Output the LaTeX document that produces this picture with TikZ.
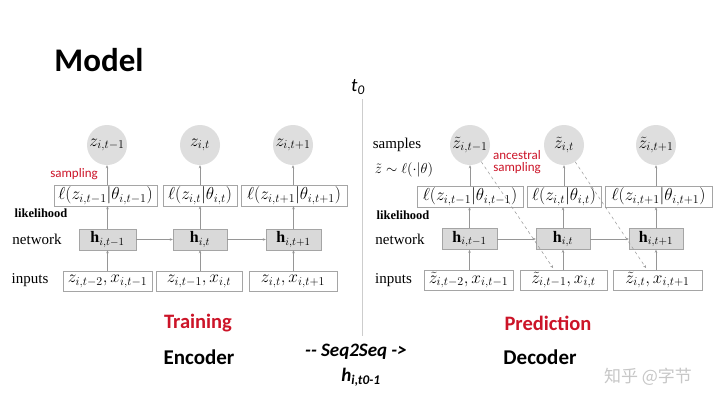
\documentclass[tikz,border=0pt]{standalone}
\usepackage{fontspec}
\setmainfont{Liberation Serif}
\newfontfamily\carlito{Carlito}
\newfontfamily\cjk{Noto Sans CJK SC}
\usetikzlibrary{arrows.meta}
\definecolor{boxgray}{RGB}{165,165,165}
\definecolor{hfill}{RGB}{217,217,217}
\definecolor{zfill}{RGB}{222,222,222}
\definecolor{slidered}{RGB}{204,20,40}
\definecolor{arrgray}{RGB}{150,150,150}
\definecolor{linegray}{RGB}{205,205,205}
\newcommand{\boxfont}{\fontsize{17}{20}\selectfont}
\tikzset{
  zcirc/.style={circle,fill=zfill,minimum size=40pt,inner sep=0pt,font=\boxfont},
  likbox/.style={draw=boxgray,fill=white,minimum height=21pt,inner sep=1pt,font=\boxfont},
  hbox/.style={draw=boxgray,fill=hfill,minimum height=21pt,inner sep=1pt,font=\fontsize{16}{18}\selectfont},
  inbox/.style={draw=boxgray,fill=white,minimum height=20pt,inner sep=1pt,font=\boxfont},
  rowlabel/.style={font=\fontsize{15}{18}\selectfont},
  liklabel/.style={font=\fontsize{12.5}{14}\selectfont\bfseries},
  redlabel/.style={text=slidered,font=\fontsize{13}{14}\selectfont\carlito,align=center},
  arr/.style={-{Stealth[length=3pt,width=2.5pt]},draw=arrgray,line width=0.5pt},
  dasharr/.style={arr,dashed},
}
\begin{document}
\begin{tikzpicture}[x=1pt,y=-1pt]
  \useasboundingbox (0,0) rectangle (720,405);
  \fill[white] (0,0) rectangle (720,405);
  \node[font=\fontsize{33}{36}\selectfont\carlito\bfseries] (title) at (99,60) {Model};
  % t0 divider
  \node[font=\fontsize{19}{20}\selectfont\carlito\itshape] (t0) at (358,87) {t\textsubscript{0}};
  \coordinate (divtop) at (362,99);
  \coordinate (divbot) at (362,336);
  \draw[linegray,line width=0.7pt] (divtop) -- (divbot);

  % encoder side
  \node[zcirc] (zl1) at (107,145) {$z_{i,t-1}$};
  \node[zcirc] (zl2) at (200,145) {$z_{i,t}$};
  \node[zcirc] (zl3) at (293,145) {$z_{i,t+1}$};
  \node[redlabel] (samp) at (74,174) {sampling};
  \node[likbox,minimum width=103pt] (ll1) at (105.5,195.5) {$\ell(z_{i,t-1}|\theta_{i,t-1})$};
  \node[likbox,minimum width=74pt] (ll2) at (200,195.5) {$\ell(z_{i,t}|\theta_{i,t})$};
  \node[likbox,minimum width=106pt] (ll3) at (294,195.5) {$\ell(z_{i,t+1}|\theta_{i,t+1})$};
  \node[liklabel] (likl) at (41,213) {likelihood};
  \node[rowlabel] (netl) at (37,239) {network};
  \node[hbox,minimum width=57pt] (hl1) at (107.5,239.5) {$\mathbf{h}_{i,t-1}$};
  \node[hbox,minimum width=54pt] (hl2) at (200,239.5) {$\mathbf{h}_{i,t}$};
  \node[hbox,minimum width=55pt] (hl3) at (293.5,239.5) {$\mathbf{h}_{i,t+1}$};
  \node[rowlabel] (inl) at (30,280) {inputs};
  \node[inbox,minimum width=89pt] (il1) at (107.5,281.5) {$z_{i,t-2},x_{i,t-1}$};
  \node[inbox,minimum width=86pt] (il2) at (199,281.5) {$z_{i,t-1},x_{i,t}$};
  \node[inbox,minimum width=88pt] (il3) at (293,281.5) {$z_{i,t},x_{i,t+1}$};
  \foreach \c in {1,2,3}{
    \draw[arr] (hl\c.north |- il\c.north) -- (hl\c.south);
    \draw[arr] (hl\c.north) -- (hl\c.north |- ll\c.south);
    \draw[arr] (zl\c.south |- ll\c.north) -- (zl\c.south);
  }
  \draw[arr] (hl1) -- (hl2);
  \draw[arr] (hl2) -- (hl3);

  % decoder side
  \node[rowlabel] (sampl) at (397,145) {samples};
  \node[rowlabel] (distl) at (404,170) {$\tilde{z}\sim\ell(\cdot|\theta)$};
  \node[zcirc] (zr1) at (470,145) {$\tilde{z}_{i,t-1}$};
  \node[zcirc] (zr2) at (564,145) {$\tilde{z}_{i,t}$};
  \node[zcirc] (zr3) at (656,145) {$\tilde{z}_{i,t+1}$};
  \node[redlabel,inner sep=0pt] (anc) at (517,162) {ancestral\\[-2pt]sampling};
  \node[likbox,minimum width=106pt] (lr1) at (470,196.5) {$\ell(z_{i,t-1}|\theta_{i,t-1})$};
  \node[likbox,minimum width=74pt] (lr2) at (564,196.5) {$\ell(z_{i,t}|\theta_{i,t})$};
  \node[likbox,minimum width=107pt] (lr3) at (658.5,196.5) {$\ell(z_{i,t+1}|\theta_{i,t+1})$};
  \node[liklabel] (likr) at (403,215) {likelihood};
  \node[rowlabel] (netr) at (400,239) {network};
  \node[hbox,minimum width=55pt] (hr1) at (469.5,239) {$\mathbf{h}_{i,t-1}$};
  \node[hbox,minimum width=54pt] (hr2) at (563,239) {$\mathbf{h}_{i,t}$};
  \node[hbox,minimum width=54pt] (hr3) at (656,239) {$\mathbf{h}_{i,t+1}$};
  \node[rowlabel] (inr) at (393.5,280) {inputs};
  \node[inbox,minimum width=89pt] (ir1) at (468.5,280) {$\tilde{z}_{i,t-2},x_{i,t-1}$};
  \node[inbox,minimum width=87pt] (ir2) at (563.5,280) {$\tilde{z}_{i,t-1},x_{i,t}$};
  \node[inbox,minimum width=89pt] (ir3) at (657.5,280) {$\tilde{z}_{i,t},x_{i,t+1}$};
  \foreach \c in {1,2,3}{
    \draw[arr] (hr\c.north |- ir\c.north) -- (hr\c.south);
    \draw[arr] (hr\c.north) -- (hr\c.north |- lr\c.south);
    \draw[arr] (zr\c.south |- lr\c.north) -- (zr\c.south);
  }
  \draw[arr] (hr1) -- (hr2);
  \draw[arr] (hr2) -- (hr3);
  % sample fed back as next input
  \coordinate (fb1) at (553,268);
  \coordinate (fb2) at (646,268);
  \draw[dasharr] (zr1) -- (fb1);
  \draw[dasharr] (zr2) -- (fb2);

  % captions
  \node[font=\fontsize{20.5}{22}\selectfont\carlito\bfseries,text=slidered] (train) at (198,323) {Training};
  \node[font=\fontsize{21}{22}\selectfont\carlito\bfseries] (enc) at (199,357) {Encoder};
  \node[font=\fontsize{19}{22}\selectfont\carlito\bfseries\itshape] (s2s) at (356,352) {{-}{-} Seq2Seq {-}>};
  \node[font=\fontsize{19}{22}\selectfont\carlito\bfseries\itshape] (hctx) at (361,377) {h\textsubscript{i,t0-1}};
  \node[font=\fontsize{20.5}{22}\selectfont\carlito\bfseries,text=slidered] (pred) at (548,323) {Prediction};
  \node[font=\fontsize{21}{22}\selectfont\carlito\bfseries] (dec) at (540,357) {Decoder};
  \node[font=\fontsize{17}{20}\selectfont\cjk,text=black!22] (mark) at (648,377) {知乎 @字节};
\end{tikzpicture}
\end{document}
